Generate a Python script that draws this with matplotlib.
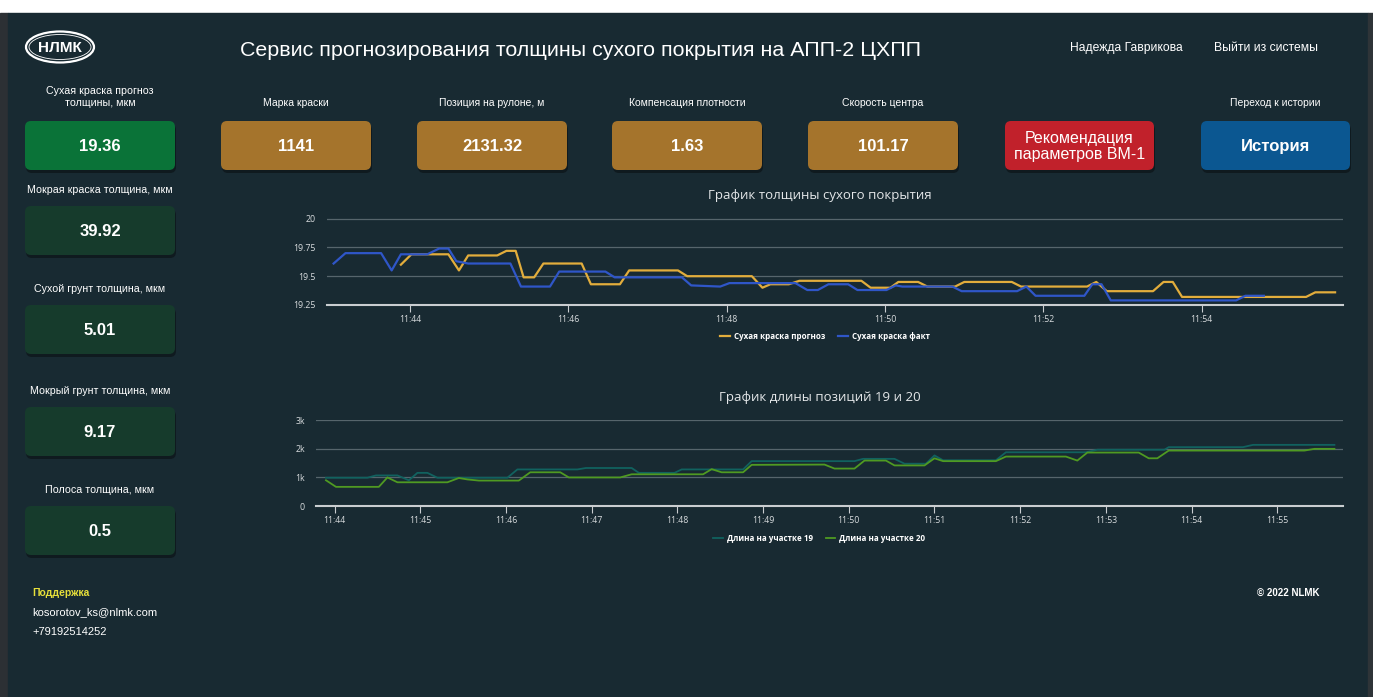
import pandas as pd
import matplotlib
matplotlib.use('Agg')
import matplotlib.pyplot as plt
import matplotlib.dates as mdates
from matplotlib.patches import FancyBboxPatch, Ellipse, Rectangle

# ---- данные ----
# График толщины сухого покрытия
t_prognoz = ['11:43:53', '11:44:01', '11:44:29', '11:44:37', '11:44:44', '11:45:06', '11:45:13',
             '11:45:20', '11:45:26', '11:45:34', '11:45:41', '11:46:10', '11:46:17', '11:46:39',
             '11:46:46', '11:47:23', '11:47:30', '11:48:19', '11:48:27', '11:48:33', '11:48:47',
             '11:48:55', '11:49:42', '11:49:49', '11:50:04', '11:50:10', '11:50:25', '11:50:32',
             '11:50:53', '11:51:00', '11:51:36', '11:51:43', '11:52:33', '11:52:40', '11:52:48',
             '11:53:23', '11:53:31', '11:53:38', '11:53:45', '11:55:19', '11:55:26', '11:55:41']
v_prognoz = [19.60, 19.69, 19.69, 19.55, 19.68, 19.68, 19.72,
             19.72, 19.49, 19.49, 19.61, 19.61, 19.43, 19.43,
             19.55, 19.55, 19.50, 19.50, 19.40, 19.43, 19.43,
             19.46, 19.46, 19.40, 19.40, 19.45, 19.45, 19.41,
             19.41, 19.45, 19.45, 19.41, 19.41, 19.45, 19.37,
             19.37, 19.45, 19.45, 19.32, 19.32, 19.36, 19.36]

t_fakt = ['11:43:02', '11:43:11', '11:43:38', '11:43:46', '11:43:53', '11:44:13', '11:44:22',
          '11:44:29', '11:44:35', '11:44:44', '11:45:16', '11:45:24', '11:45:46', '11:45:53',
          '11:46:28', '11:46:35', '11:47:26', '11:47:33', '11:47:55', '11:48:02', '11:48:52',
          '11:49:01', '11:49:09', '11:49:17', '11:49:32', '11:49:39', '11:50:01', '11:50:08',
          '11:50:13', '11:50:51', '11:50:58', '11:51:40', '11:51:47', '11:51:54', '11:52:31',
          '11:52:37', '11:52:44', '11:52:51', '11:54:26', '11:54:33', '11:54:47']
v_fakt = [19.61, 19.70, 19.70, 19.55, 19.69, 19.69, 19.74,
          19.74, 19.63, 19.61, 19.61, 19.41, 19.41, 19.54,
          19.54, 19.49, 19.49, 19.42, 19.41, 19.44, 19.44,
          19.38, 19.38, 19.43, 19.43, 19.38, 19.38, 19.42,
          19.41, 19.41, 19.37, 19.37, 19.41, 19.33, 19.33,
          19.43, 19.43, 19.29, 19.29, 19.33, 19.33]

# График длины позиций 19 и 20
t_uch19 = ['11:43:54', '11:44:23', '11:44:29', '11:44:44', '11:44:52', '11:44:58', '11:45:05',
           '11:45:12', '11:46:01', '11:46:08', '11:46:50', '11:46:56', '11:47:28', '11:47:33',
           '11:47:58', '11:48:03', '11:48:46', '11:48:52', '11:50:04', '11:50:10', '11:50:32',
           '11:50:39', '11:50:54', '11:51:00', '11:51:06', '11:51:43', '11:51:50', '11:52:46',
           '11:52:54', '11:53:41', '11:53:44', '11:54:36', '11:54:43', '11:55:40']
v_uch19 = [990, 990, 1070, 1070, 900, 1160, 1160,
           990, 990, 1280, 1280, 1330, 1330, 1160,
           1160, 1280, 1280, 1570, 1570, 1650, 1650,
           1480, 1480, 1770, 1600, 1600, 1880, 1880,
           1970, 1970, 2060, 2060, 2140, 2140]

t_uch20 = ['11:43:54', '11:44:01', '11:44:31', '11:44:37', '11:44:44', '11:45:19', '11:45:27',
           '11:45:33', '11:45:41', '11:46:09', '11:46:17', '11:46:38', '11:46:44', '11:47:20',
           '11:47:28', '11:48:18', '11:48:24', '11:48:31', '11:48:46', '11:48:52', '11:49:43',
           '11:49:50', '11:50:04', '11:50:11', '11:50:26', '11:50:32', '11:50:53', '11:51:00',
           '11:51:06', '11:51:43', '11:51:50', '11:52:32', '11:52:40', '11:52:47', '11:53:23',
           '11:53:30', '11:53:36', '11:53:44', '11:55:19', '11:55:26', '11:55:40']
v_uch20 = [900, 670, 670, 1000, 830, 830, 980,
           930, 890, 890, 1180, 1180, 1000, 1000,
           1110, 1110, 1290, 1180, 1180, 1440, 1450,
           1310, 1310, 1590, 1590, 1420, 1420, 1670,
           1570, 1570, 1730, 1730, 1590, 1870, 1870,
           1670, 1670, 1940, 1940, 2000, 2000]

# карточки
left_labels = ['Сухая краска прогноз\nтолщины, мкм', 'Мокрая краска толщина, мкм',
               'Сухой грунт толщина, мкм', 'Мокрый грунт толщина, мкм', 'Полоса толщина, мкм']
left_values = ['19.36', '39.92', '5.01', '9.17', '0.5']
top_labels = ['Марка краски', 'Позиция на рулоне, м', 'Компенсация плотности', 'Скорость центра']
top_values = ['1141', '2131.32', '1.63', '101.17']

# ---- оформление ----
BG = '#182a32'
W, H = 1373, 697
UI = ['Liberation Sans', 'DejaVu Sans']
CH = ['Open Sans', 'DejaVu Sans']


def to_time(lst):
    return pd.to_datetime(['2022-01-01 ' + s for s in lst])


fig = plt.figure(figsize=(W / 100, H / 100), dpi=100, facecolor='white')
cv = fig.add_axes([0, 0, 1, 1])
cv.set_xlim(0, W)
cv.set_ylim(H, 0)
cv.axis('off')

cv.add_patch(Rectangle((0, 13), 8, H - 13, color='#2c3034', zorder=0))
cv.add_patch(Rectangle((8, 13), 1360, H - 13, color=BG, zorder=0))
cv.add_patch(Rectangle((1368, 13), 5, H - 13, color='#2e3438', zorder=0))


def box(x, y, w, h, color, text, size=12, bold=True):
    cv.add_patch(FancyBboxPatch((x + 1, y + 3), w, h, boxstyle='round,pad=0,rounding_size=6',
                                fc='#0f1a1f', ec='none', zorder=1))
    cv.add_patch(FancyBboxPatch((x, y), w, h, boxstyle='round,pad=0,rounding_size=6',
                                fc=color, ec='none', zorder=2))
    cv.text(x + w / 2, y + h / 2 + 1, text, ha='center', va='center', color='white',
            fontsize=size, fontweight='bold' if bold else 'normal', family=UI, zorder=3,
            linespacing=1.05)


# логотип
cv.add_patch(Ellipse((60, 47), 68, 31, fc='none', ec='white', lw=1.6, zorder=3))
cv.add_patch(Ellipse((60, 47), 62, 25, fc='none', ec='white', lw=0.6, zorder=3))
cv.text(60, 48, 'НЛМК', ha='center', va='center', color='white', fontsize=11,
        fontweight='bold', family=UI)

cv.text(581, 50, 'Сервис прогнозирования толщины сухого покрытия на АПП-2 ЦХПП',
        ha='center', va='center', color='white', fontsize=15.4, family=UI)
cv.text(1126, 48, 'Надежда Гаврикова', ha='center', va='center', color='white',
        fontsize=8.7, family=UI)
cv.text(1266, 48, 'Выйти из системы', ha='center', va='center', color='white',
        fontsize=8.7, family=UI)

# левая колонка
label_y = [97, 190, 289, 391, 490]
box_y = [121, 206, 305, 407, 506]
for i in range(len(left_labels)):
    cv.text(100, label_y[i], left_labels[i], ha='center', va='center', color='white',
            fontsize=7.7, family=UI, linespacing=1.2)
    box(25, box_y[i], 150, 49, '#0a7338' if i == 0 else '#163b2c', left_values[i])

# верхний ряд
top_x = [221, 417, 612, 808]
for i in range(len(top_labels)):
    cv.text(top_x[i] + 75, 103, top_labels[i], ha='center', va='center', color='white',
            fontsize=7.5, family=UI)
    box(top_x[i], 121, 150, 49, '#a5742c', top_values[i])

box(1005, 121, 149, 49, '#c1212b', 'Рекомендация\nпараметров ВМ-1', size=11.5, bold=False)
cv.text(1275, 103, 'Переход к истории', ha='center', va='center', color='white',
        fontsize=7.5, family=UI)
box(1201, 121, 149, 49, '#0b5791', 'История')

# подвал
cv.text(32, 593, 'Поддержка', ha='left', va='center', color='#e6df3a', fontsize=7.5,
        fontweight='bold', family=UI)
cv.text(32, 612, 'kosorotov_ks@nlmk.com', ha='left', va='center', color='white',
        fontsize=8, family=UI)
cv.text(32, 632, '+79192514252', ha='left', va='center', color='white', fontsize=8, family=UI)
cv.text(1288, 593, '© 2022 NLMK', ha='center', va='center', color='white', fontsize=7,
        fontweight='bold', family=UI)


def chart(x0, x1, ytop, ybot, tmin, tmax):
    ax = fig.add_axes([x0 / W, 1 - ybot / H, (x1 - x0) / W, (ybot - ytop) / H])
    ax.set_facecolor('none')
    for s in ['top', 'right', 'left']:
        ax.spines[s].set_visible(False)
    ax.spines['bottom'].set_color('#c9cdd0')
    ax.spines['bottom'].set_linewidth(1.5)
    ax.grid(axis='y', color='#56656c', lw=0.9)
    ax.set_axisbelow(True)
    ax.tick_params(axis='y', length=0, pad=8, labelsize=6.3, labelcolor='#d8dcde')
    ax.tick_params(axis='x', length=5, width=0.8, color='#c9cdd0', pad=2, labelsize=6.3,
                   labelcolor='#d8dcde')
    ax.set_xlim(to_time([tmin])[0], to_time([tmax])[0])
    ax.xaxis.set_major_formatter(mdates.DateFormatter('%H:%M'))
    return ax


# график 1
ax1 = chart(327, 1343, 218, 305, '11:42:57', '11:55:47')
ax1.plot(to_time(t_prognoz), v_prognoz, color='#e2ad3c', lw=1.6, label='Сухая краска прогноз')
ax1.plot(to_time(t_fakt), v_fakt, color='#2f56c8', lw=1.6, label='Сухая краска факт')
ax1.set_ylim(19.25, 20.005)
ax1.set_yticks([19.25, 19.5, 19.75, 20])
ax1.set_yticklabels(['19.25', '19.5', '19.75', '20'], family=CH)
ax1.xaxis.set_major_locator(mdates.MinuteLocator(byminute=range(0, 60, 2)))
for lab in ax1.get_xticklabels():
    lab.set_family(CH)
cv.text(820, 195, 'График толщины сухого покрытия', ha='center', va='center',
        color='#e4e7e9', fontsize=9.5, family=CH)
leg1 = ax1.legend(loc='upper center', bbox_to_anchor=(0.49, -0.23), ncol=2, frameon=False,
                  prop={'family': CH, 'size': 5.8, 'weight': 'bold'}, handlelength=1.2,
                  columnspacing=1.6, handletextpad=0.5)
for t in leg1.get_texts():
    t.set_color('white')

# график 2
ax2 = chart(316, 1343, 420, 506, '11:43:47', '11:55:46')
ax2.plot(to_time(t_uch19), v_uch19, color='#11625f', lw=1.3, label='Длина на участке 19')
ax2.plot(to_time(t_uch20), v_uch20, color='#4f9a22', lw=1.3, label='Длина на участке 20')
ax2.set_ylim(0, 3010)
ax2.set_yticks([0, 1000, 2000, 3000])
ax2.set_yticklabels(['0', '1k', '2k', '3k'], family=CH)
ax2.xaxis.set_major_locator(mdates.MinuteLocator())
for lab in ax2.get_xticklabels():
    lab.set_family(CH)
cv.text(820, 397, 'График длины позиций 19 и 20', ha='center', va='center',
        color='#e4e7e9', fontsize=9.5, family=CH)
leg2 = ax2.legend(loc='upper center', bbox_to_anchor=(0.49, -0.24), ncol=2, frameon=False,
                  prop={'family': CH, 'size': 5.8, 'weight': 'bold'}, handlelength=1.2,
                  columnspacing=1.6, handletextpad=0.5)
for t in leg2.get_texts():
    t.set_color('white')

fig.savefig('out.png', dpi=100, facecolor=fig.get_facecolor())
